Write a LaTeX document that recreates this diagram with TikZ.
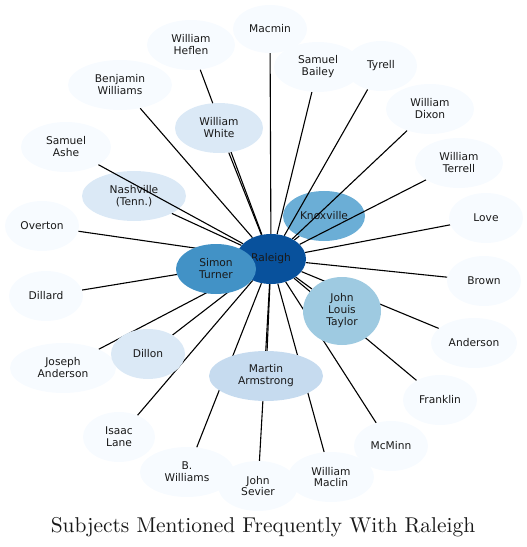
\documentclass[tikz,border=0pt]{standalone}
\usepackage{fontspec}
\newfontfamily\nodefont{DejaVu Sans}
\newfontfamily\titlefont{lmroman10-regular.otf}
\usetikzlibrary{shapes.geometric}
\definecolor{cA}{RGB}{8,81,156}
\definecolor{cB}{RGB}{66,146,198}
\definecolor{cC}{RGB}{107,174,214}
\definecolor{cD}{RGB}{158,202,225}
\definecolor{cE}{RGB}{198,219,239}
\definecolor{cF}{RGB}{219,233,246}
\definecolor{cG}{RGB}{247,251,255}
\pgfdeclarelayer{bg}
\pgfdeclarelayer{lo}
\pgfdeclarelayer{mid}
\pgfsetlayers{bg,lo,mid,main}
\tikzset{
  nd/.style args={#1/#2/#3}{ellipse, draw=none, fill=#3, inner sep=0pt,
    minimum width=#1bp, minimum height=#2bp, align=center, text=black!90,
    font=\nodefont\fontsize{10.7}{12}\selectfont},
  outer/.style={nd=#1/cG},
  edge/.style={draw=black, line width=1.1bp},
}
\begin{document}
\begin{tikzpicture}[x=1bp,y=-1bp]
\useasboundingbox (0,0) rectangle (527,547);
% lower nodes (edges pass over them)
\begin{pgfonlayer}{lo}
\node[nd=82/50/cC] (knox) at (324,216) {Knoxville};
\node[nd=104/50/cF] (nash) at (134,196) {Nashville\\(Tenn.)};
\end{pgfonlayer}
% outer nodes
\node[outer=74/48] (macmin) at (270,29) {Macmin};
\node[outer=88/50] (heflen) at (191,45) {William\\Heflen};
\node[outer=104/50] (bwill) at (120,85) {Benjamin\\Williams};
\node[outer=90/50] (ashe) at (66,147) {Samuel\\Ashe};
\node[outer=74/50] (overton) at (42,226) {Overton};
\node[outer=88/50] (bailey) at (318,67) {Samuel\\Bailey};
\node[outer=72/50] (tyrell) at (381,66) {Tyrell};
\node[outer=88/50] (dixon) at (430,109) {William\\Dixon};
\node[outer=88/50] (terrell) at (459,163) {William\\Terrell};
\node[outer=74/50] (love) at (486,218) {Love};
\node[outer=74/50] (brown) at (484,281) {Brown};
\node[outer=86/50] (anderson) at (474,343) {Anderson};
\node[outer=74/50] (franklin) at (440,400) {Franklin};
\node[outer=74/50] (mcminn) at (391,446) {McMinn};
\node[outer=86/50] (maclin) at (331,477) {William\\Maclin};
\node[outer=94/50] (bwilliams) at (187,472) {B.\\Williams};
\node[outer=80/50] (sevier) at (258,486) {John\\Sevier};
\node[outer=72/50] (lane) at (119,437) {Isaac\\Lane};
\node[outer=106/50] (janderson) at (63,368) {Joseph\\Anderson};
\node[outer=74/50] (dillard) at (46,296) {Dillard};
% inner nodes
\node[nd=88/50/cF] (white) at (219,128) {William\\White};
\node[nd=74/50/cF] (dillon) at (148,354) {Dillon};
\node[nd=114/50/cE] (armstrong) at (266,376) {Martin\\Armstrong};
\node[nd=78/68/cD] (taylor) at (342,311) {John\\Louis\\Taylor};
\node[nd=70/50/cA] (raleigh) at (271,259) {Raleigh};
\node[nd=80/50/cB] (turner) at (216,269) {Simon\\Turner};
% edges under Knoxville / Nashville
\begin{pgfonlayer}{bg}
\draw[edge] (raleigh) -- (knox);
\draw[edge] (raleigh) -- (nash);
\end{pgfonlayer}
% remaining edges
\begin{pgfonlayer}{mid}
\foreach \n in {macmin,heflen,bwill,ashe,overton,bailey,tyrell,dixon,terrell,
  love,brown,anderson,franklin,mcminn,maclin,bwilliams,sevier,lane,janderson,
  dillard,white,dillon,armstrong,taylor,turner}
  \draw[edge] (raleigh) -- (\n);
\end{pgfonlayer}
\node[anchor=base, font=\titlefont\fontsize{21.5}{24}\selectfont, text=black!90] (title) at (263,532)
  {Subjects Mentioned Frequently With Raleigh};
\end{tikzpicture}
\end{document}
